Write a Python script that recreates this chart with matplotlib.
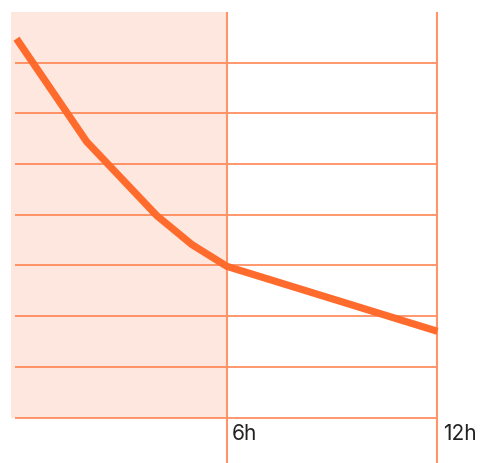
import matplotlib
matplotlib.use("Agg")
import matplotlib.pyplot as plt

# Decay curve sampled at a few hours
hours = [0, 2, 4, 5, 6, 12]
level = [7.47, 5.44, 3.98, 3.41, 2.98, 1.70]
grid_levels = [0, 1, 2, 3, 4, 5, 6, 7]
tick_hours = [6, 12]
tick_labels = ["6h", "12h"]

W, H, DPI = 482, 464, 100
fig = plt.figure(figsize=(W / DPI, H / DPI), dpi=DPI)
ax = fig.add_axes([0, 0, 1, 1])

# pixel <-> data mapping
x0_px, px_per_h = 16.5, 35.08
y0_px, px_per_unit = 418.5, 50.71
ax.set_xlim(-x0_px / px_per_h, (W - x0_px) / px_per_h)
ax.set_ylim((y0_px - H) / px_per_unit, y0_px / px_per_unit)
ax.axis("off")

shade = "#fde7df"
grid_c = "#ff7a45"
vline_c = "#ff9468"
curve_c = "#ff6b2c"

# shaded first-six-hours window
ax.fill_between([-0.157, 6], 0, 8, color=shade, lw=0, zorder=0)

# horizontal guides
for g in grid_levels:
    ax.plot([-0.03, 12], [g, g], color=grid_c, lw=1.1, zorder=1,
            solid_capstyle="butt")

# vertical hour markers
for h in tick_hours:
    ax.plot([h, h], [ax.get_ylim()[0], 7.99], color=vline_c, lw=1.5,
            zorder=1, solid_capstyle="butt")

# curve
ax.plot(hours, level, color=curve_c, lw=5.2, zorder=3,
        solid_capstyle="butt", solid_joinstyle="round")

for h, lab in zip(tick_hours, tick_labels):
    ax.text(h + 0.15, -0.11, lab, ha="left", va="top", fontsize=15,
            family="Inter", color="#222222")

fig.savefig("out.png", dpi=DPI)
